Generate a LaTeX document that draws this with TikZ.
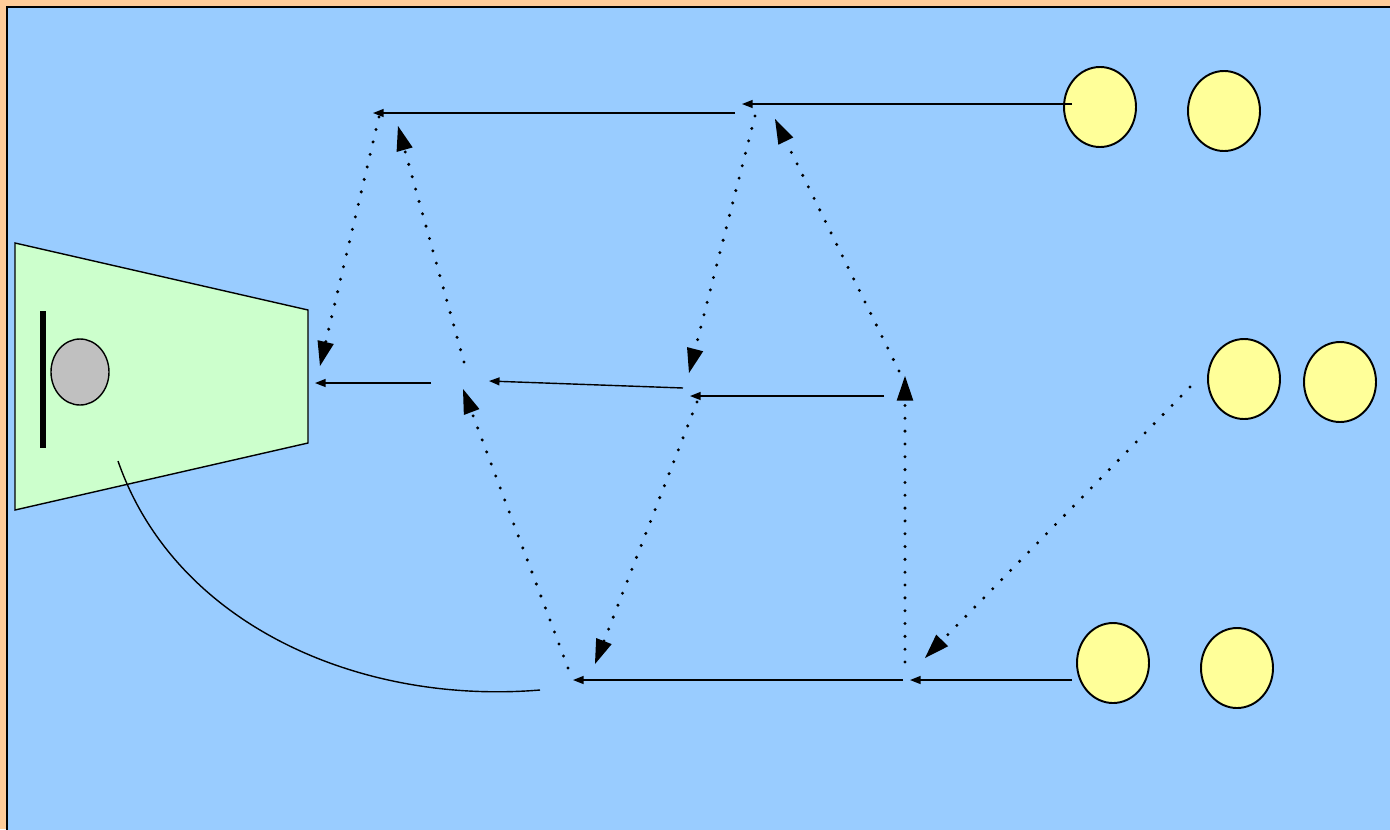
\documentclass[tikz,border=0pt]{standalone}
\usetikzlibrary{arrows.meta}

\definecolor{pagepeach}{HTML}{FFCC99}
\definecolor{fieldblue}{HTML}{99CCFF}
\definecolor{zonegreen}{HTML}{CCFFCC}
\definecolor{playeryellow}{HTML}{FFFF99}
\definecolor{keepergrey}{HTML}{C0C0C0}

\tikzset{
	pass/.style = {line width = 0.8pt, -{Triangle[length=6pt, width=4.5pt]}},
	run/.style = {line width = 1.9pt, line cap=round, dash pattern=on 0pt off 7.3pt,
		-{Triangle[length=14pt, width=9.5pt, line width=0pt]}},
	player/.style = {draw, line width = 1.1pt, fill=playeryellow},
}

\begin{document}
\begin{tikzpicture}[x=0.02cm, y=-0.02cm]
	
	\useasboundingbox (0,0) rectangle (1390,829);
	\fill[pagepeach] (0,0) rectangle (1390,829);
	\filldraw[fill=fieldblue, line width = 1.2pt] (7,7) rectangle (1400,840);
	
	% goal area and keeper
	\filldraw[fill=zonegreen, line width = 0.8pt] (15,243) -- (308,310) -- (308,443) -- (15,510) -- cycle;
	\fill (40,311) rectangle (46,448);
	\filldraw[fill=keepergrey, line width = 0.8pt] (80,372) ellipse [x radius=29, y radius=33];
	
	% players
	\draw[player] (1100,107) ellipse [x radius=36, y radius=40];
	\draw[player] (1224,111) ellipse [x radius=36, y radius=40];
	\draw[player] (1244,379) ellipse [x radius=36, y radius=40];
	\draw[player] (1340,382) ellipse [x radius=36, y radius=40];
	\draw[player] (1113,663) ellipse [x radius=36, y radius=40];
	\draw[player] (1237,668) ellipse [x radius=36, y radius=40];
	
	% points of the drill
	\coordinate (topR) at (1072,104);
	\coordinate (topM) at (742,104);
	\coordinate (topMs) at (735,113);
	\coordinate (topL) at (373,113);
	\coordinate (midR) at (884,396);
	\coordinate (midM) at (690,396);
	\coordinate (midMs) at (683,388);
	\coordinate (midL) at (489,381);
	\coordinate (midLs) at (431,383);
	\coordinate (goal) at (315,383);
	\coordinate (botR) at (1072,680);
	\coordinate (botM) at (910,680);
	\coordinate (botMs) at (903,680);
	\coordinate (botL) at (573,680);
	
	% passes
	\draw[pass] (topR) -- (topM);
	\draw[pass] (topMs) -- (topL);
	\draw[pass] (midR) -- (midM);
	\draw[pass] (midMs) -- (midL);
	\draw[pass] (midLs) -- (goal);
	\draw[pass] (botR) -- (botM);
	\draw[pass] (botMs) -- (botL);
	
	% runs
	\draw[run] (379,117) -- (320,366);
	\draw[run] (464,362) -- (398,126);
	\draw[run] (755,116) -- (689,373);
	\draw[run] (899,371) -- (775,119);
	\draw[run] (697,402) -- (595,664);
	\draw[run] (568,668) -- (463,389);
	\draw[run] (905,662) -- (905,376);
	\draw[run] (1190,387) -- (925,658);
	
	% keeper throw
	\draw[line width = 0.8pt] (118,461) .. controls (175,625) and (360,705) .. (540,690);
	
\end{tikzpicture}
\end{document}
